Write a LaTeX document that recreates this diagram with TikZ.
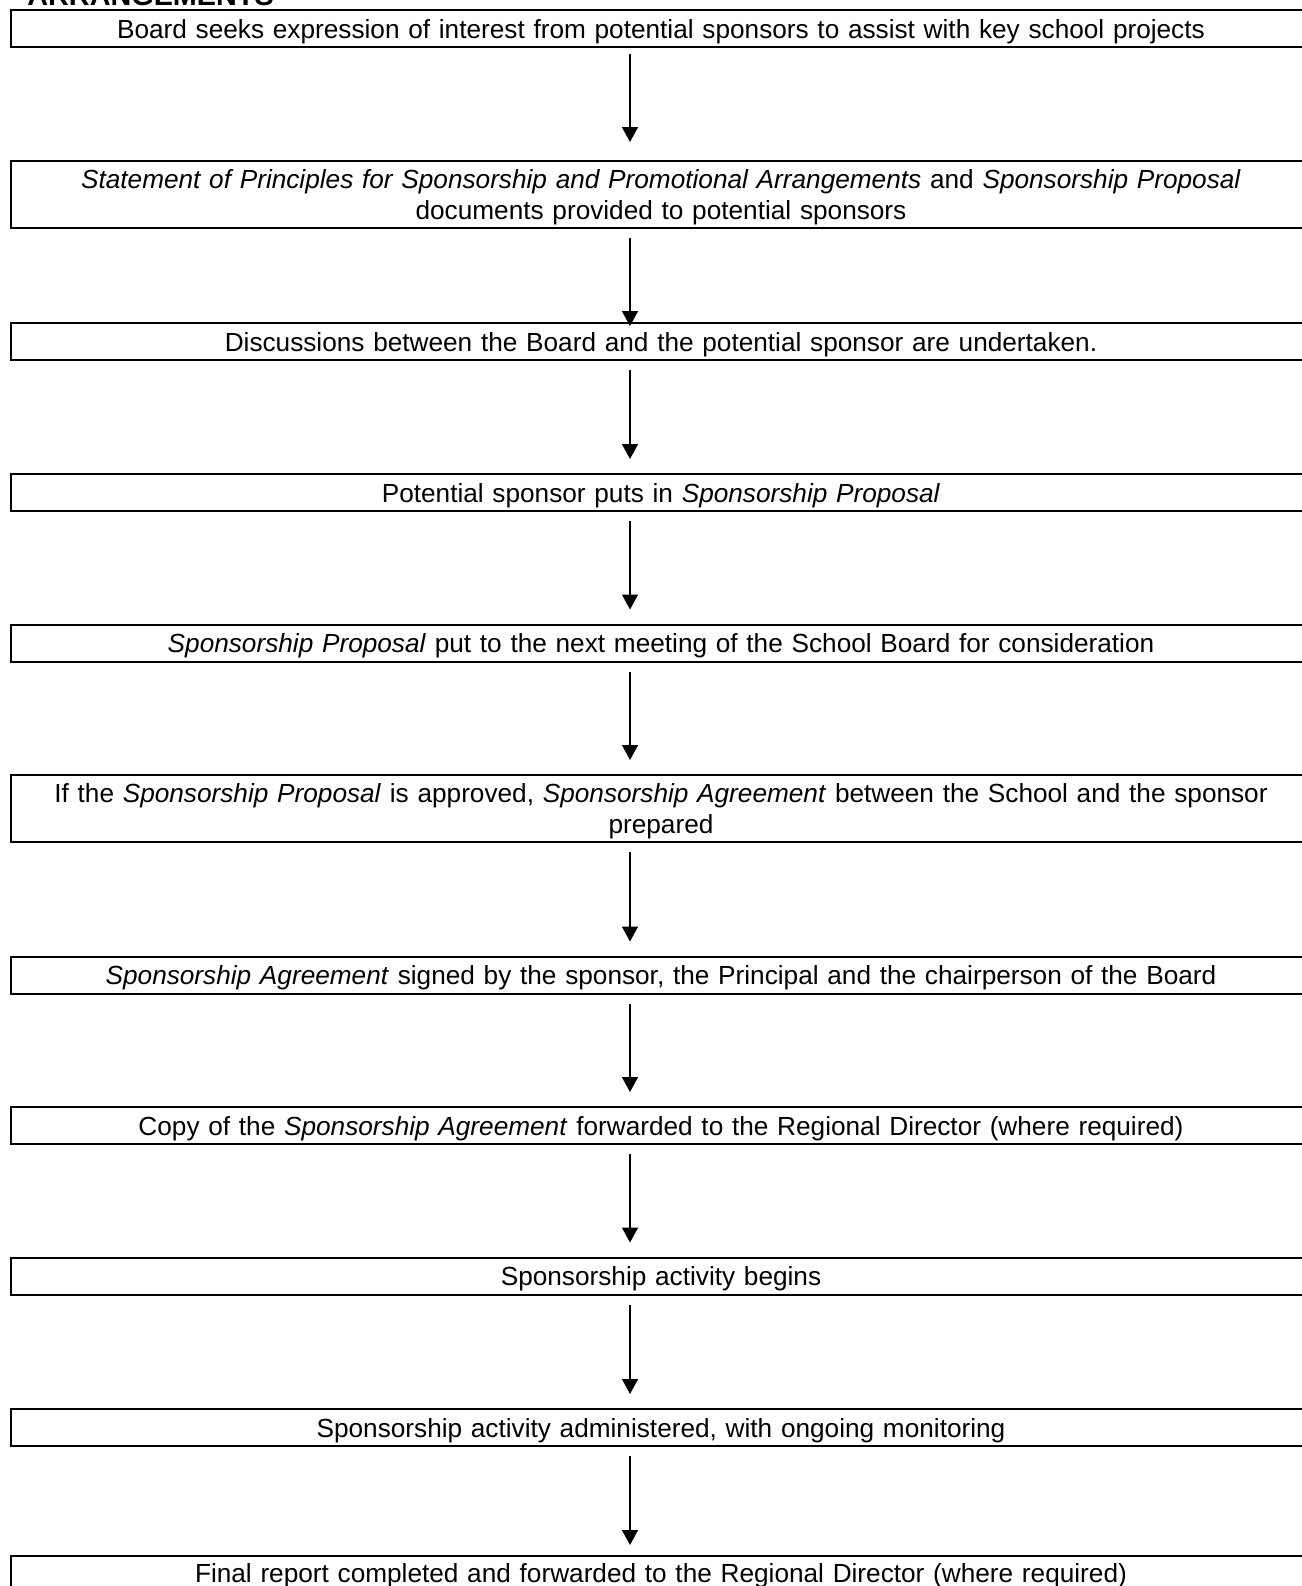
\documentclass[tikz,border=0pt]{standalone}
\usepackage{fontspec}
\setmainfont{Liberation Sans}
\usetikzlibrary{arrows.meta}
\begin{document}
\begin{tikzpicture}[x=0.5pt,y=-0.5pt,
  box/.style={draw, line width=1pt, minimum width=650pt, inner sep=0pt, align=center, text width=640pt, font=\fontsize{13.1}{15.3}\selectfont},
  one/.style={box, minimum height=18.5pt, text height=12.7pt, text depth=3pt},
  two/.style={box, minimum height=33.5pt, text height=12.2pt, text depth=18pt},
  arr/.style={line width=0.75pt, -{Triangle[width=8pt,length=7.5pt]}, shorten <=4.5pt, shorten >=7pt}]
\useasboundingbox (0,0) rectangle (1302,1586);
\clip (0,0) rectangle (1302,1586);
\node[font=\bfseries\fontsize{14.4}{17}\selectfont, anchor=base west, inner sep=0pt] (title) at (27,5) {ARRANGEMENTS};
\node[one] (b1) at (661,28.5) {Board seeks expression of interest from potential sponsors to assist with key school projects};
\node[two] (b2) at (661,194.5) {\textit{Statement of Principles for Sponsorship and Promotional Arrangements} and \textit{Sponsorship Proposal}\\ documents provided to potential sponsors};
\node[one] (b3) at (661,341.5) {Discussions between the Board and the potential sponsor are undertaken.};
\node[one] (b4) at (661,492.5) {Potential sponsor puts in \textit{Sponsorship Proposal}};
\node[one] (b5) at (661,643) {\textit{Sponsorship Proposal} put to the next meeting of the School Board for consideration};
\node[two] (b6) at (661,808.5) {If the \textit{Sponsorship Proposal} is approved, \textit{Sponsorship Agreement} between the School and the sponsor\\ prepared};
\node[one] (b7) at (661,975) {\textit{Sponsorship Agreement} signed by the sponsor, the Principal and the chairperson of the Board};
\node[one] (b8) at (661,1125.5) {Copy of the \textit{Sponsorship Agreement} forwarded to the Regional Director (where required)};
\node[one] (b9) at (661,1276) {Sponsorship activity begins};
\node[one] (b10) at (661,1427.5) {Sponsorship activity administered, with ongoing monitoring};
\node[one, text depth=5pt] (b11) at (661,1574.5) {Final report completed and forwarded to the Regional Director (where required)};
\coordinate (ax) at (630,0);
\draw[arr, shorten <=3pt, shorten >=9pt] (b1.south -| ax) -- (b2.north -| ax);
\draw[arr, shorten >=-2pt] (b2.south -| ax) -- (b3.north -| ax);
\draw[arr] (b3.south -| ax) -- (b4.north -| ax);
\draw[arr] (b4.south -| ax) -- (b5.north -| ax);
\draw[arr] (b5.south -| ax) -- (b6.north -| ax);
\draw[arr] (b6.south -| ax) -- (b7.north -| ax);
\draw[arr] (b7.south -| ax) -- (b8.north -| ax);
\draw[arr] (b8.south -| ax) -- (b9.north -| ax);
\draw[arr] (b9.south -| ax) -- (b10.north -| ax);
\draw[arr, shorten >=5pt] (b10.south -| ax) -- (b11.north -| ax);
\end{tikzpicture}
\end{document}
